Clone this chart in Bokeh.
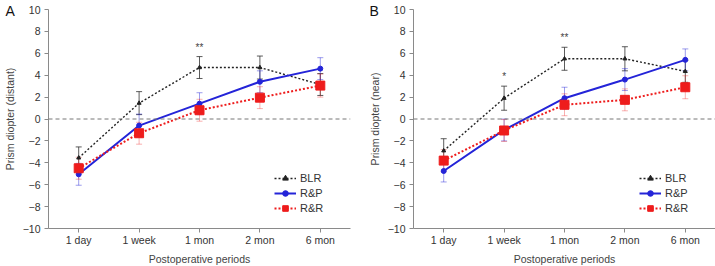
from bokeh.plotting import figure
from bokeh.layouts import row
from bokeh.models import (ColumnDataSource, Whisker, TeeHead, Span,
                          Legend, LegendItem, FactorRange, FixedTicker)
from bokeh.core.properties import value
from bokeh.embed import file_html
from bokeh.resources import INLINE

periods = ["1 day", "1 week", "1 mon", "2 mon", "6 mon"]

# Panel A: distant deviation (mean, error)
blr_dist = [-3.55, 1.45, 4.7, 4.7, 3.15]
blr_dist_err = [1.0, 1.05, 1.0, 1.05, 1.0]
rp_dist = [-5.05, -0.6, 1.4, 3.4, 4.6]
rp_dist_err = [1.0, 1.05, 1.0, 1.0, 1.0]
rr_dist = [-4.5, -1.3, 0.8, 1.95, 3.05]
rr_dist_err = [1.0, 1.0, 1.0, 1.0, 1.05]
sig_dist = ["", "", "**", "", ""]

# Panel B: near deviation (mean, error)
blr_near = [-2.9, 1.9, 5.5, 5.5, 4.35]
blr_near_err = [1.1, 1.1, 1.05, 1.1, 1.0]
rp_near = [-4.75, -1.0, 1.9, 3.6, 5.4]
rp_near_err = [1.0, 1.0, 1.0, 1.0, 1.0]
rr_near = [-3.8, -1.05, 1.3, 1.75, 2.9]
rr_near_err = [1.0, 1.0, 1.0, 1.0, 1.05]
sig_near = ["", "*", "**", "", ""]

y_ticks = list(range(-10, 11, 2))

FONT = "Liberation Sans"
BLUE = "#2424d8"
RED = "#ee1c1c"
BLACK = "#222222"


def add_series(p, mean, err, color, err_color, err_alpha, dash, width, marker, msize):
    src = ColumnDataSource(dict(
        x=periods, y=mean,
        lo=[m - e for m, e in zip(mean, err)],
        hi=[m + e for m, e in zip(mean, err)],
    ))
    w = Whisker(base="x", lower="lo", upper="hi", source=src,
                line_color=err_color, line_alpha=err_alpha, line_width=1,
                upper_head=TeeHead(size=6, line_color=err_color, line_alpha=err_alpha, line_width=1),
                lower_head=TeeHead(size=6, line_color=err_color, line_alpha=err_alpha, line_width=1))
    p.add_layout(w)
    ln = p.line("x", "y", source=src, line_color=color, line_width=width, line_dash=dash)
    mk = p.scatter("x", "y", source=src, marker=marker, size=msize,
                   fill_color=color, line_color=color)
    return ln, mk


def make_panel(letter, ylabel, blr, blr_e, rp, rp_e, rr, rr_e, sig, left_border, right_border, letter_x):
    p = figure(x_range=FactorRange(*periods, range_padding=0), y_range=(-10, 10),
               frame_width=302, frame_height=219,
               min_border_left=left_border, min_border_right=right_border,
               min_border_top=9, min_border_bottom=38,
               output_backend="svg", toolbar_location=None,
               background_fill_color="white", border_fill_color="white",
               outline_line_color=None)
    p.xgrid.visible = False
    p.ygrid.visible = False

    for ax in (p.xaxis[0], p.yaxis[0]):
        ax.axis_line_color = "#8a8a8a"
        ax.major_tick_line_color = "#8a8a8a"
        ax.major_tick_out = 4
        ax.major_tick_in = 0
        ax.minor_tick_line_color = None
        ax.major_label_text_font = FONT
        ax.major_label_text_font_size = "10.5px"
        ax.major_label_text_color = "#333333"
        ax.axis_label_text_font = FONT
        ax.axis_label_text_font_size = "10.5px"
        ax.axis_label_text_font_style = "normal"
        ax.axis_label_text_color = "#444444"

    p.yaxis.ticker = FixedTicker(ticks=y_ticks)
    p.yaxis.axis_label = ylabel
    p.yaxis.major_label_standoff = 4
    p.yaxis.axis_label_standoff = 4
    p.xaxis.axis_label = "Postoperative periods"
    p.xaxis.major_label_standoff = 1
    p.xaxis.axis_label_standoff = 4

    p.add_layout(Span(location=0, dimension="width", line_color="#777777",
                      line_dash="4 3", line_width=1))

    blr_r = add_series(p, blr, blr_e, BLACK, "#333333", 0.8, "2 2", 1.4, "triangle", 4)
    rp_r = add_series(p, rp, rp_e, BLUE, BLUE, 0.45, "solid", 2, "circle", 5)
    rr_r = add_series(p, rr, rr_e, RED, RED, 0.35, "2 2", 2, "square", 9)

    # significance marks above the BLR error bars
    sig_src = ColumnDataSource(dict(
        x=[f for f, s in zip(periods, sig) if s],
        y=[m + e + 0.35 for m, e, s in zip(blr, blr_e, sig) if s],
        t=[s for s in sig if s],
    ))
    p.text("x", "y", text="t", source=sig_src, text_align="center",
           text_baseline="bottom", text_font_size="10px", text_color="#444444")

    legend = Legend(items=[
        LegendItem(label="BLR", renderers=list(blr_r)),
        LegendItem(label="R&P", renderers=list(rp_r)),
        LegendItem(label="R&R", renderers=list(rr_r)),
    ], location=(226, 13), border_line_color=None, background_fill_alpha=0,
        padding=0, margin=0, spacing=1, glyph_width=22, glyph_height=14,
        label_height=14, label_standoff=4, label_text_font=FONT,
        label_text_font_size="11px", label_text_color="#333333")
    p.add_layout(legend)

    # panel letter in the top-left corner, left of the frame
    p.text(x=[letter_x], y=[9.82], text=[letter], text_font=value(FONT),
           text_font_size="14px", text_color="#111111", text_baseline="middle",
           text_align="left", level="overlay")
    return p


pa = make_panel("A", "Prism diopter (distant)", blr_dist, blr_dist_err, rp_dist,
                rp_dist_err, rr_dist, rr_dist_err, sig_dist, 42, 13, -0.71)
pb = make_panel("B", "Prism diopter (near)", blr_near, blr_near_err, rp_near,
                rp_near_err, rr_near, rr_near_err, sig_near, 50, 6, -0.73)

layout = row(pa, pb)
open("out.html", "w").write(file_html(layout, INLINE))
